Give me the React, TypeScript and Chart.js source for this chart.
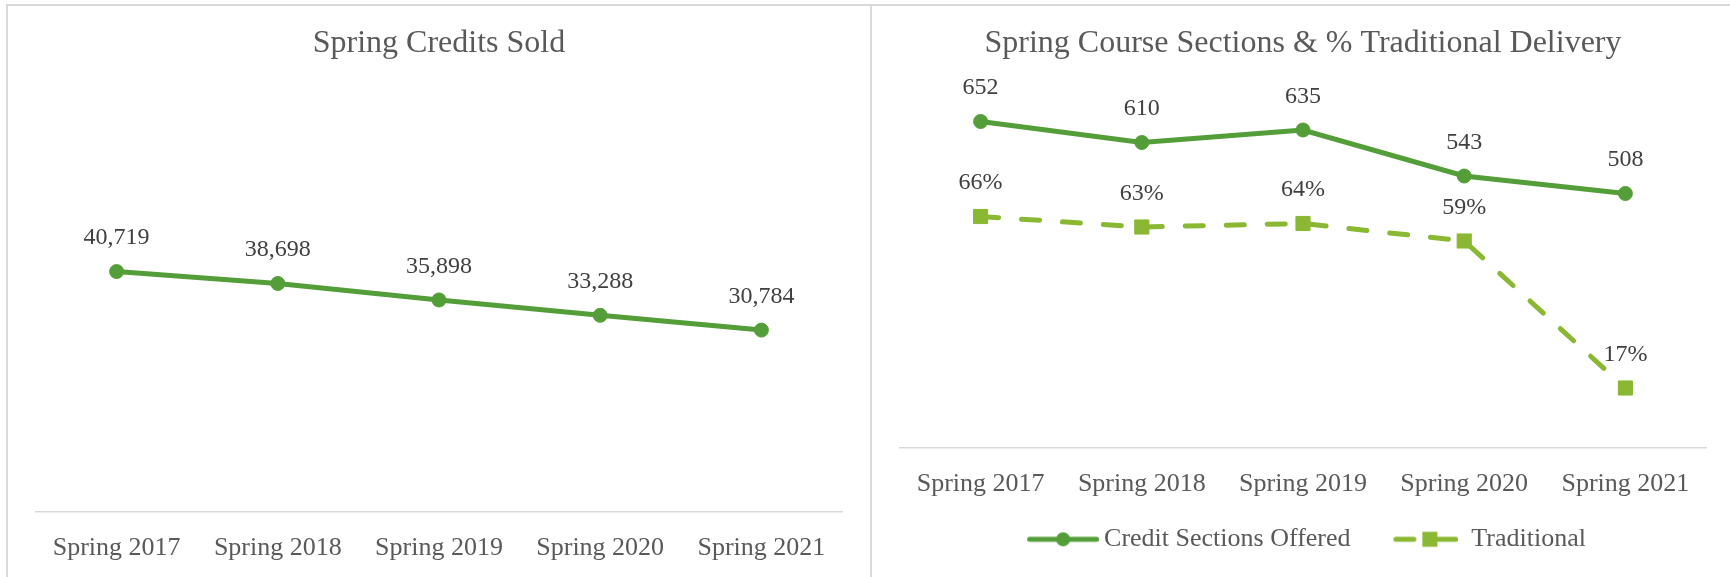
import React, { useEffect, useRef } from 'react';
import Chart from 'chart.js/auto';

const categories = ['Spring 2017', 'Spring 2018', 'Spring 2019', 'Spring 2020', 'Spring 2021'];
const creditsSold = [40719, 38698, 35898, 33288, 30784];
const sectionsOffered = [652, 610, 635, 543, 508];
const traditionalPct = [66, 63, 64, 59, 17];
const leftTitle = 'Spring Credits Sold';
const rightTitle = 'Spring Course Sections & % Traditional Delivery';
const seriesNames = ['Credit Sections Offered', 'Traditional'];

const FONT = "'Liberation Serif', 'Times New Roman', serif";
const GREEN = '#549E39';
const LIME = '#8AB833';
const TEXT = '#595959';
const LABEL = '#404040';
const AXIS = '#D9D9D9';

function labelPlugin(fmt: (v: number, di: number) => string) {
  return {
    id: 'valueLabels',
    afterDatasetsDraw(chart: any) {
      const ctx = chart.ctx;
      ctx.save();
      ctx.font = `24px ${FONT}`;
      ctx.fillStyle = LABEL;
      ctx.textAlign = 'center';
      ctx.textBaseline = 'middle';
      chart.data.datasets.forEach((ds: any, di: number) => {
        const meta = chart.getDatasetMeta(di);
        meta.data.forEach((pt: any, i: number) => {
          ctx.fillText(fmt(ds.data[i], di), pt.x, pt.y - 33.5);
        });
      });
      ctx.restore();
    },
  };
}

const legendShift = {
  id: 'legendShift',
  afterLayout(chart: any) {
    const l = chart.legend;
    if (l) {
      l.left -= 5;
      l.right -= 5;
    }
  },
};

function makeSolidSample() {
  const c = document.createElement('canvas');
  c.width = 97;
  c.height = 20;
  const g = c.getContext('2d')!;
  g.strokeStyle = GREEN;
  g.lineWidth = 5;
  g.lineCap = 'round';
  g.beginPath();
  g.moveTo(27.5, 10);
  g.lineTo(94.5, 10);
  g.stroke();
  g.fillStyle = GREEN;
  g.beginPath();
  g.arc(61, 10, 7, 0, Math.PI * 2);
  g.fill();
  return c;
}

function makeDashedSample() {
  const c = document.createElement('canvas');
  c.width = 81;
  c.height = 20;
  const g = c.getContext('2d')!;
  g.strokeStyle = LIME;
  g.lineWidth = 5;
  g.lineCap = 'round';
  g.beginPath();
  g.moveTo(18.5, 10);
  g.lineTo(36.5, 10);
  g.stroke();
  g.beginPath();
  g.moveTo(58, 10);
  g.lineTo(78.5, 10);
  g.stroke();
  g.fillStyle = LIME;
  g.fillRect(45, 2.5, 15, 15);
  return c;
}

const xScale = (pad: number, height: number) => ({
  type: 'category' as const,
  offset: true,
  grid: { display: false, drawTicks: false },
  border: { display: true, color: AXIS, width: 1.5 },
  ticks: {
    color: TEXT,
    font: { family: FONT, size: 26 },
    padding: pad,
    maxRotation: 0,
    autoSkip: false,
  },
  afterFit: (scale: any) => {
    scale.height = height;
  },
});

export default function App() {
  const leftRef = useRef<HTMLCanvasElement>(null);
  const rightRef = useRef<HTMLCanvasElement>(null);

  useEffect(() => {
    const c1 = new Chart(leftRef.current!, {
      type: 'line',
      data: {
        labels: categories,
        datasets: [
          {
            label: 'Credits Sold',
            data: creditsSold,
            borderColor: GREEN,
            backgroundColor: GREEN,
            borderWidth: 5,
            pointRadius: 7,
            pointHoverRadius: 7,
            pointBackgroundColor: GREEN,
            pointBorderColor: GREEN,
            pointBorderWidth: 1,
            tension: 0,
            fill: false,
          },
        ],
      },
      options: {
        responsive: false,
        animation: false,
        events: [],
        layout: { padding: { left: 28, right: 28, top: 0, bottom: 13.1 } },
        plugins: {
          legend: { display: false },
          tooltip: { enabled: false },
          title: {
            display: true,
            text: leftTitle,
            color: TEXT,
            font: { family: FONT, size: 32, weight: 'normal' },
            padding: { top: 18.5, bottom: 36.1 },
          },
        },
        scales: {
          x: xScale(21.2, 52.4),
          y: { display: false, min: 0, max: 70000 },
        },
      } as any,
      plugins: [labelPlugin((v) => v.toLocaleString('en-US'))],
    });

    const imgs = [makeSolidSample(), makeDashedSample()];
    const c2 = new Chart(rightRef.current!, {
      type: 'line',
      data: {
        labels: categories,
        datasets: [
          {
            label: seriesNames[0],
            data: sectionsOffered,
            yAxisID: 'y',
            borderColor: GREEN,
            backgroundColor: GREEN,
            borderWidth: 5,
            pointRadius: 7,
            pointHoverRadius: 7,
            pointBackgroundColor: GREEN,
            pointBorderColor: GREEN,
            pointBorderWidth: 1,
            tension: 0,
            fill: false,
          },
          {
            label: seriesNames[1],
            data: traditionalPct,
            yAxisID: 'y1',
            borderColor: LIME,
            backgroundColor: LIME,
            borderWidth: 5,
            borderDash: [18, 23],
            borderCapStyle: 'round',
            pointStyle: 'rect',
            pointRadius: 10,
            pointHoverRadius: 10,
            pointBackgroundColor: LIME,
            pointBorderColor: LIME,
            pointBorderWidth: 1,
            tension: 0,
            fill: false,
          },
        ],
      },
      options: {
        responsive: false,
        animation: false,
        events: [],
        layout: { padding: { left: 28, right: 24, top: 0, bottom: 14.7 } },
        plugins: {
          tooltip: { enabled: false },
          title: {
            display: true,
            text: rightTitle,
            color: TEXT,
            font: { family: FONT, size: 32, weight: 'normal' },
            padding: { top: 18.5, bottom: 34.6 },
          },
          legend: {
            display: true,
            position: 'bottom',
            labels: {
              usePointStyle: true,
              pointStyleWidth: 81,
              padding: 26.8,
              color: TEXT,
              font: { family: FONT, size: 26 },
              generateLabels: (chart: any) => {
                const items = (Chart.defaults as any).plugins.legend.labels.generateLabels(chart);
                return items.map((it: any, i: number) => ({ ...it, pointStyle: imgs[i], fontColor: TEXT }));
              },
            },
          },
        },
        scales: {
          x: xScale(20.8, 52),
          y: { display: false, min: 0, max: 700 },
          y1: { display: false, position: 'right', min: 0, max: 100 },
        },
      } as any,
      plugins: [labelPlugin((v, di) => (di === 1 ? `${v}%` : String(v))), legendShift],
    });

    return () => {
      c1.destroy();
      c2.destroy();
    };
  }, []);

  return (
    <div
      style={{
        position: 'fixed',
        left: 0,
        top: 0,
        width: 1730,
        height: 577,
        overflow: 'hidden',
        background: '#ffffff',
      }}
    >
      <div style={{ position: 'absolute', left: 6, top: 4, width: 1724, height: 2, background: AXIS }} />
      <div style={{ position: 'absolute', left: 6, top: 4, width: 2, height: 573, background: AXIS }} />
      <div style={{ position: 'absolute', left: 870, top: 4, width: 2, height: 573, background: AXIS }} />
      <canvas
        ref={leftRef}
        width={862}
        height={571}
        style={{ position: 'absolute', left: 8, top: 6, display: 'block' }}
      />
      <canvas
        ref={rightRef}
        width={858}
        height={571}
        style={{ position: 'absolute', left: 872, top: 6, display: 'block' }}
      />
    </div>
  );
}
